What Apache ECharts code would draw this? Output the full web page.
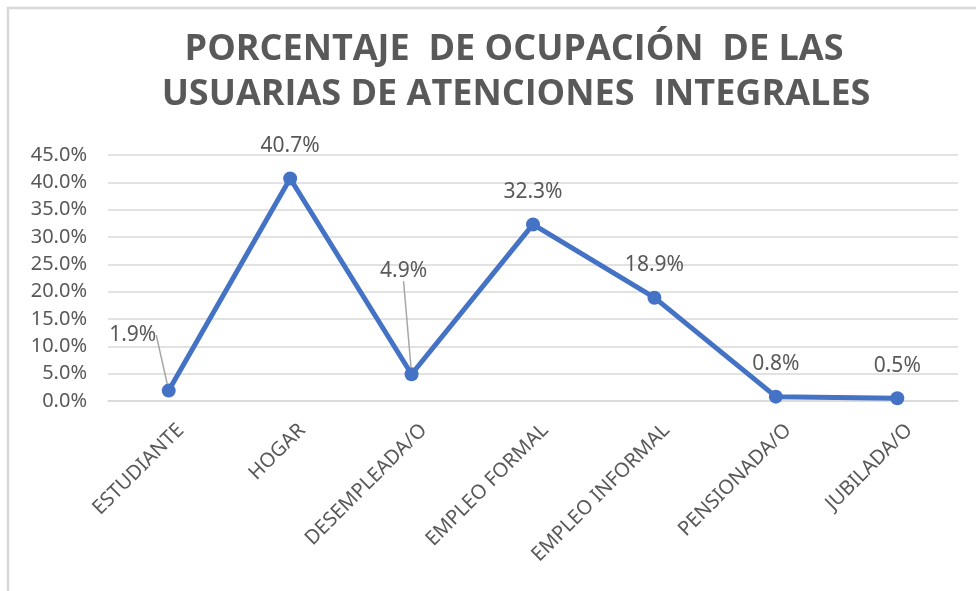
<!DOCTYPE html>
<html>
<head>
<meta charset="utf-8">
<script src="https://cdn.jsdelivr.net/npm/echarts@6/dist/echarts.min.js"></script>
<style>
  html, body { margin: 0; padding: 0; background: #ffffff; }
  #chart { width: 976px; height: 591px; }
</style>
</head>
<body>
<div id="chart"></div>
<script>
// Occupation categories and their share (%)
const categories = ['ESTUDIANTE', 'HOGAR', 'DESEMPLEADA/O', 'EMPLEO FORMAL', 'EMPLEO INFORMAL', 'PENSIONADA/O', 'JUBILADA/O'];
const percentages = [1.9, 40.7, 4.9, 32.3, 18.9, 0.8, 0.5];
const titleLines = ['PORCENTAJE  DE OCUPACIÓN  DE LAS', 'USUARIAS DE ATENCIONES  INTEGRALES'];

// Labels pushed off their point, with a guide line back to it
const movedLabels = { 0: { dx: -36, dy: -23 }, 2: { dx: -8, dy: -71 } };

const TEXT = '#595959';
const GRID_LINE = '#d9d9d9';

const chart = echarts.init(document.getElementById('chart'), null, { renderer: 'canvas' });

const seriesData = percentages.map((v, i) => {
  const item = { value: v };
  if (movedLabels[i]) item.labelLine = { show: true };
  return item;
});

chart.setOption({
  animation: false,
  backgroundColor: '#ffffff',
  graphic: [
    {
      type: 'rect',
      shape: { x: 8, y: 8, width: 1200, height: 800 },
      style: { fill: 'none', stroke: GRID_LINE, lineWidth: 2.5 },
      silent: true,
      z: -1
    },
    {
      type: 'text',
      x: 514, y: 50,
      style: {
        text: titleLines[0],
        fill: TEXT,
        font: 'bold 36px "Open Sans"',
        textAlign: 'center',
        textVerticalAlign: 'middle'
      }
    },
    {
      type: 'text',
      x: 516, y: 95,
      style: {
        text: titleLines[1],
        fill: TEXT,
        font: 'bold 36px "Open Sans"',
        textAlign: 'center',
        textVerticalAlign: 'middle'
      }
    }
  ],
  grid: [
    { left: 108, right: 18, top: 155, bottom: 190 },
    // companion grid carrying only the category labels, nudged right
    { left: 113, right: 13, top: 155, bottom: 190 }
  ],
  xAxis: [
    {
      type: 'category',
      gridIndex: 0,
      data: categories,
      boundaryGap: true,
      axisLine: { show: true, lineStyle: { color: GRID_LINE, width: 1.5 } },
      axisTick: { show: false },
      axisLabel: { show: false }
    },
    {
      type: 'category',
      gridIndex: 1,
      data: categories,
      boundaryGap: true,
      axisLine: { show: false },
      axisTick: { show: false },
      axisLabel: {
        rotate: 45,
        interval: 0,
        margin: 19,
        align: 'right',
        verticalAlign: 'top',
        fontFamily: 'Noto Sans',
        fontSize: 20,
        color: TEXT
      }
    }
  ],
  yAxis: [
    {
      type: 'value',
      gridIndex: 0,
      min: 0,
      max: 45,
      interval: 5,
      axisLine: { show: false },
      axisTick: { show: false },
      splitLine: { lineStyle: { color: GRID_LINE, width: 1.5 } },
      axisLabel: {
        margin: 21,
        fontFamily: 'Noto Sans',
        fontSize: 20,
        color: TEXT,
        formatter: v => v.toFixed(1) + '%'
      }
    },
    {
      type: 'value',
      gridIndex: 1,
      min: 0,
      max: 45,
      interval: 5,
      show: false
    }
  ],
  series: [{
    type: 'line',
    xAxisIndex: 0,
    yAxisIndex: 0,
    data: seriesData,
    symbol: 'circle',
    symbolSize: 14,
    lineStyle: { color: '#4472C4', width: 5 },
    itemStyle: { color: '#4472C4' },
    label: {
      show: true,
      position: 'top',
      distance: 15,
      fontFamily: 'Noto Sans',
      fontSize: 21,
      color: TEXT,
      formatter: p => p.value.toFixed(1) + '%'
    },
    labelLine: {
      show: false,
      lineStyle: { color: '#a6a6a6', width: 1.5 }
    },
    labelLayout: p => movedLabels[p.dataIndex] ? { dx: movedLabels[p.dataIndex].dx, dy: movedLabels[p.dataIndex].dy } : {}
  }]
});
</script>
</body>
</html>
